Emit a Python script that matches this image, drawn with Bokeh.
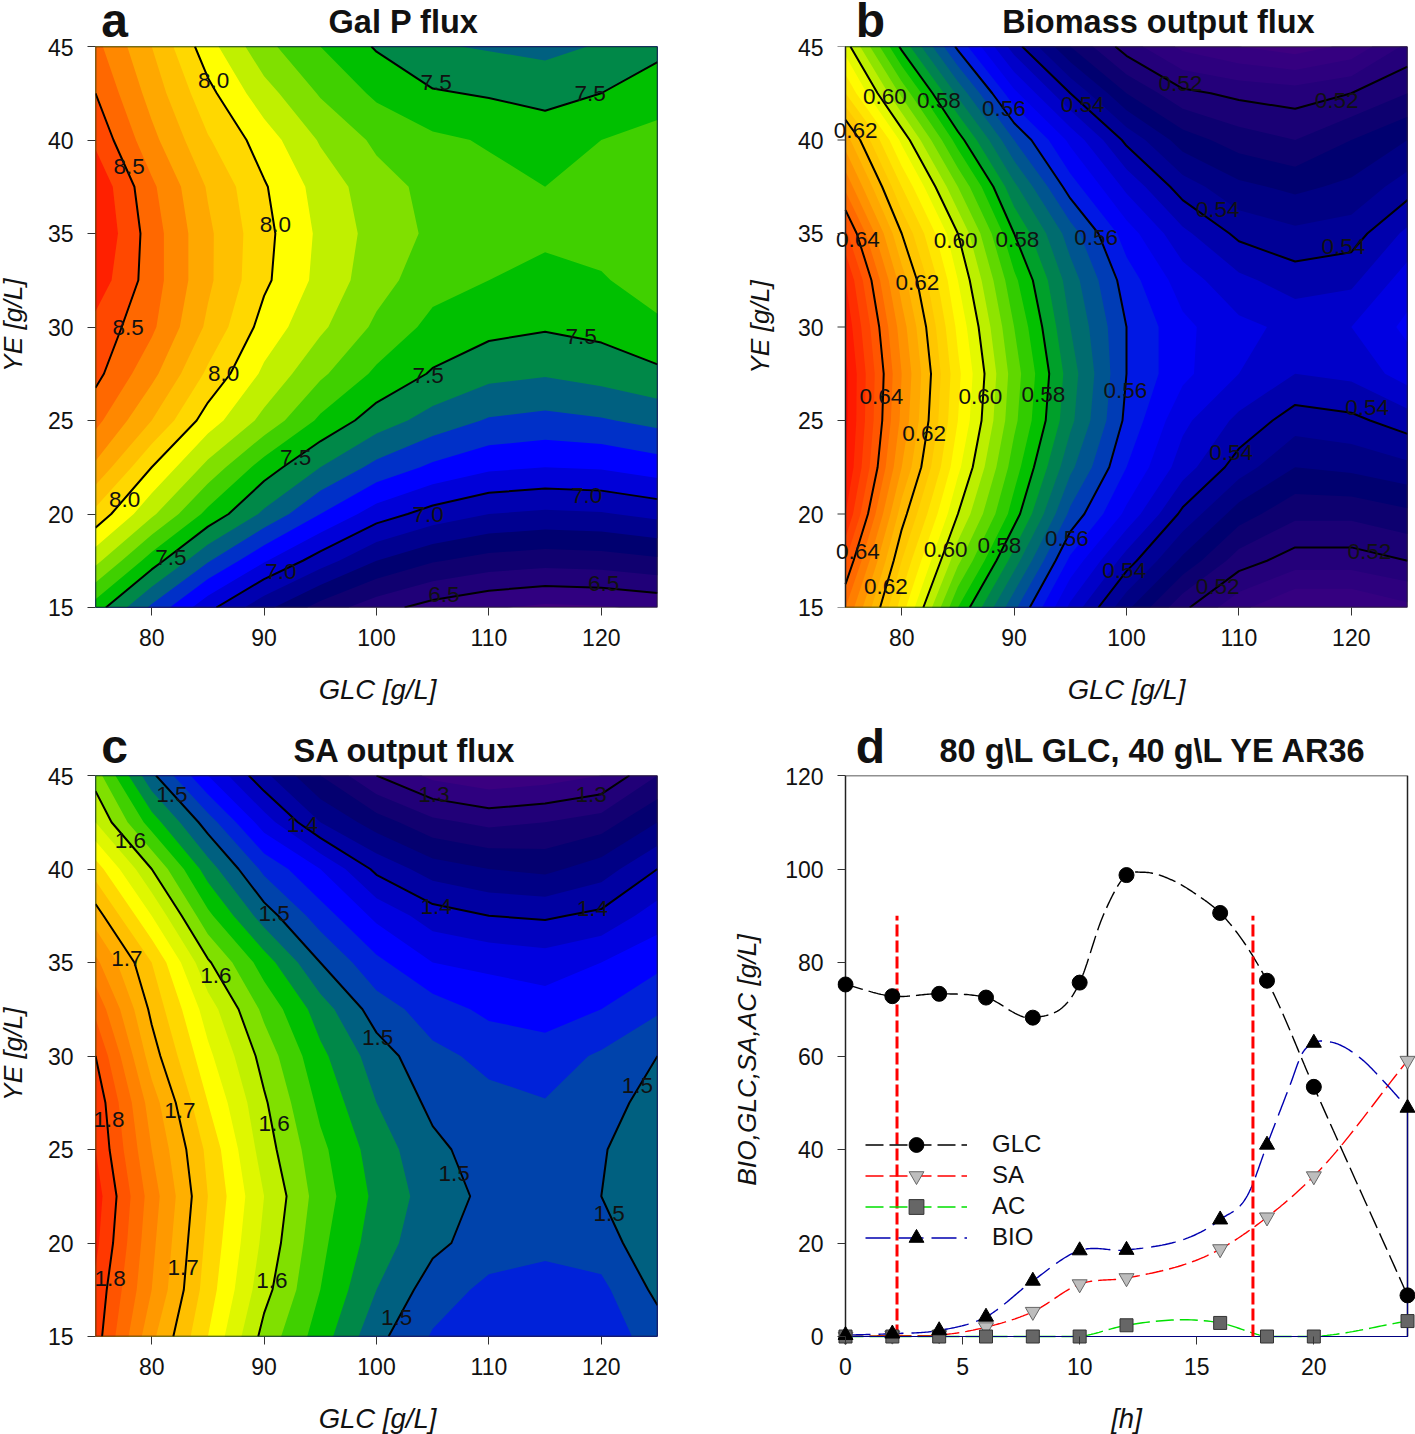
import numpy as np
from bokeh.embed import file_html
from bokeh.resources import INLINE
from bokeh.plotting import figure
from bokeh.layouts import column, row
from bokeh.models import Range1d, FixedTicker, Legend, LegendItem
from bokeh.core.properties import value

# ---------- data ----------
GLC_GRID = [75, 80, 85, 90, 95, 100, 105, 110, 115, 120, 125]
YE_GRID = [15, 17.5, 20, 22.5, 25, 27.5, 30, 32.5, 35, 37.5, 40, 42.5, 45]

GALP_150 = [7.55, 7.28, 7.03, 6.83, 6.66, 6.54, 6.46, 6.41, 6.38, 6.39, 6.42]
GALP_175 = [7.83, 7.55, 7.31, 7.11, 6.95, 6.80, 6.71, 6.66, 6.64, 6.65, 6.68]
GALP_200 = [8.07, 7.82, 7.57, 7.38, 7.20, 7.05, 6.96, 6.90, 6.88, 6.89, 6.93]
GALP_225 = [8.28, 8.00, 7.77, 7.55, 7.40, 7.27, 7.18, 7.12, 7.10, 7.11, 7.15]
GALP_250 = [8.43, 8.20, 7.95, 7.77, 7.58, 7.45, 7.36, 7.29, 7.27, 7.29, 7.33]
GALP_275 = [8.53, 8.33, 8.08, 7.88, 7.72, 7.58, 7.49, 7.43, 7.41, 7.44, 7.48]
GALP_300 = [8.57, 8.42, 8.18, 7.96, 7.82, 7.68, 7.57, 7.53, 7.51, 7.53, 7.58]
GALP_325 = [8.66, 8.45, 8.22, 8.02, 7.87, 7.74, 7.64, 7.60, 7.57, 7.59, 7.65]
GALP_350 = [8.70, 8.45, 8.22, 8.03, 7.88, 7.76, 7.68, 7.64, 7.62, 7.64, 7.68]
GALP_375 = [8.68, 8.42, 8.19, 8.01, 7.86, 7.74, 7.67, 7.63, 7.60, 7.63, 7.67]
GALP_400 = [8.58, 8.33, 8.11, 7.95, 7.79, 7.68, 7.62, 7.59, 7.55, 7.60, 7.63]
GALP_425 = [8.50, 8.26, 8.03, 7.84, 7.69, 7.58, 7.51, 7.49, 7.47, 7.50, 7.56]
GALP_450 = [8.43, 8.20, 7.94, 7.73, 7.60, 7.49, 7.41, 7.39, 7.37, 7.41, 7.47]

BIOM_150 = [.636, .610, .584, .565, .547, .533, .521, .513, .508, .508, .511]
BIOM_175 = [.644, .616, .593, .574, .555, .542, .531, .522, .518, .518, .520]
BIOM_200 = [.652, .622, .600, .582, .563, .551, .539, .530, .525, .525, .527]
BIOM_225 = [.656, .628, .605, .586, .569, .556, .546, .538, .532, .533, .535]
BIOM_250 = [.657, .631, .608, .589, .573, .559, .549, .543, .538, .539, .542]
BIOM_275 = [.657, .632, .609, .590, .574, .560, .553, .548, .544, .545, .550]
BIOM_300 = [.655, .630, .607, .588, .572, .560, .553, .549, .547, .548, .553]
BIOM_325 = [.652, .626, .604, .585, .570, .558, .550, .545, .542, .543, .550]
BIOM_350 = [.645, .620, .600, .580, .566, .554, .545, .539, .537, .538, .545]
BIOM_375 = [.635, .612, .592, .573, .558, .547, .538, .533, .531, .533, .538]
BIOM_400 = [.626, .603, .582, .564, .551, .539, .530, .526, .524, .528, .532]
BIOM_425 = [.612, .591, .571, .553, .540, .528, .521, .519, .518, .520, .524]
BIOM_450 = [.602, .579, .559, .542, .528, .518, .511, .508, .506, .509, .517]

SAFL_150 = [1.81, 1.725, 1.66, 1.593, 1.55, 1.506, 1.478, 1.467, 1.46, 1.468, 1.49]
SAFL_175 = [1.815, 1.74, 1.67, 1.607, 1.56, 1.52, 1.49, 1.475, 1.472, 1.475, 1.505]
SAFL_200 = [1.825, 1.745, 1.675, 1.615, 1.565, 1.53, 1.505, 1.49, 1.485, 1.49, 1.516]
SAFL_225 = [1.83, 1.75, 1.68, 1.62, 1.57, 1.535, 1.51, 1.495, 1.49, 1.50, 1.519]
SAFL_250 = [1.82, 1.74, 1.675, 1.61, 1.565, 1.53, 1.505, 1.49, 1.488, 1.498, 1.516]
SAFL_275 = [1.815, 1.73, 1.66, 1.603, 1.555, 1.52, 1.495, 1.485, 1.481, 1.49, 1.51]
SAFL_300 = [1.80, 1.71, 1.645, 1.592, 1.545, 1.51, 1.485, 1.475, 1.47, 1.483, 1.50]
SAFL_325 = [1.775, 1.695, 1.63, 1.575, 1.53, 1.49, 1.47, 1.455, 1.45, 1.46, 1.477]
SAFL_350 = [1.745, 1.68, 1.603, 1.55, 1.50, 1.465, 1.44, 1.435, 1.43, 1.44, 1.455]
SAFL_375 = [1.71, 1.64, 1.565, 1.51, 1.47, 1.435, 1.41, 1.40, 1.397, 1.405, 1.43]
SAFL_400 = [1.67, 1.60, 1.53, 1.475, 1.44, 1.395, 1.37, 1.36, 1.355, 1.37, 1.40]
SAFL_425 = [1.62, 1.55, 1.49, 1.43, 1.38, 1.35, 1.325, 1.315, 1.32, 1.33, 1.36]
SAFL_450 = [1.59, 1.505, 1.44, 1.385, 1.34, 1.30, 1.275, 1.265, 1.27, 1.28, 1.32]

GALP_LABELS = ["8.0", "7.5", "7.5", "8.5", "8.0", "8.5", "7.5", "8.0", "7.5", "7.5", "8.0", "7.0", "7.0", "7.5", "7.0", "6.5", "6.5"]
GALP_LX = [85.5, 105.3, 119.0, 78.0, 91.0, 77.9, 118.2, 86.4, 104.6, 92.8, 77.6, 104.6, 118.7, 81.7, 91.5, 106.0, 120.2]
GALP_LY = [43.2, 43.1, 42.5, 38.6, 35.5, 30.0, 29.5, 27.5, 27.4, 23.0, 20.8, 20.0, 21.0, 17.7, 16.9, 15.7, 16.3]

BIOM_LABELS = ["0.60", "0.58", "0.56", "0.54", "0.52", "0.52", "0.62", "0.54", "0.64", "0.60", "0.58", "0.56", "0.54", "0.62", "0.64",
               "0.60", "0.58", "0.56", "0.54", "0.62", "0.54", "0.52", "0.64", "0.60", "0.58", "0.56", "0.54", "0.62", "0.52"]
BIOM_LX = [78.5, 83.3, 89.1, 96.1, 104.8, 118.7, 75.9, 108.1, 76.1, 84.8, 90.3, 97.3, 119.3, 81.4, 78.2,
           87.0, 92.6, 99.9, 121.4, 82.0, 109.3, 121.6, 76.1, 83.9, 88.7, 94.7, 99.8, 78.6, 108.1]
BIOM_LY = [42.3, 42.1, 41.7, 41.9, 43.0, 42.1, 40.5, 36.3, 34.7, 34.6, 34.7, 34.8, 34.3, 32.4, 26.3,
           26.3, 26.4, 26.6, 25.7, 24.3, 23.3, 18.0, 18.0, 18.1, 18.3, 18.7, 17.0, 16.1, 16.1]

SAFL_LABELS = ["1.5", "1.4", "1.3", "1.3", "1.6", "1.5", "1.4", "1.4", "1.7", "1.6", "1.5", "1.5", "1.8", "1.7", "1.6", "1.5", "1.5", "1.8", "1.7", "1.6", "1.5"]
SAFL_LX = [81.8, 93.4, 105.1, 119.1, 78.1, 90.9, 105.3, 119.2, 77.8, 85.7, 100.1, 123.2, 76.2, 82.5, 90.9, 106.9, 120.7, 76.3, 82.8, 90.7, 101.8]
SAFL_LY = [44.0, 42.4, 44.0, 44.0, 41.5, 37.6, 38.0, 37.9, 35.2, 34.3, 31.0, 28.4, 26.6, 27.1, 26.4, 23.7, 21.6, 18.1, 18.7, 18.0, 16.0]

HOURS = [0, 2, 4, 6, 8, 10, 12, 16, 18, 20, 24]
GLC = [75.3, 72.8, 73.3, 72.5, 68.2, 75.7, 98.7, 90.6, 76.1, 53.4, 8.8]
SA = [0.0, 0.2, 0.3, 2.0, 5.3, 11.2, 12.5, 18.7, 25.5, 34.3, 59.0]
AC = [0.0, 0.0, 0.0, 0.0, 0.0, 0.0, 2.4, 2.9, 0.0, 0.0, 3.3]
BIO = [0.3, 0.6, 1.3, 4.2, 11.9, 18.4, 18.5, 25.0, 41.0, 62.8, 48.9]

# vertices of the drawn curves
GLC_CURVE_T = [0, 2, 4, 6, 8, 10, 11, 12, 12.7, 14, 15, 16, 18, 20, 24]
GLC_CURVE_V = [75.3, 72.8, 73.3, 72.5, 68.2, 75.7, 90.0, 98.7, 99.3, 97.5, 94.5, 90.6, 76.1, 53.4, 8.8]
BIO_CURVE_T = [0, 2, 4, 6, 8, 10, 12, 16, 17.2, 18, 19, 19.5, 20, 20.7, 22, 23, 24]
BIO_CURVE_V = [0.3, 0.6, 1.3, 4.2, 11.9, 18.4, 18.5, 25.0, 30.5, 41.0, 54.0, 60.5, 62.8, 63.0, 59.5, 54.5, 48.9]

PHASE_H = [2.2, 17.4]
PHASE_TOP = [90, 90]

HEAD_TITLES = ["Gal P flux", "Biomass output flux", "SA output flux", "80 g\\L GLC, 40 g\\L YE AR36"]
HEAD_LETTERS = ["a", "b", "c", "d"]

# ---------- colours ----------
RAMP = ["#400080", "#300080", "#200078", "#100070", "#000070", "#000090", "#0000B0", "#0000D8", "#0000FF",
        "#0030C8", "#006080", "#008848", "#00C000", "#40D000", "#80E000", "#C0F000", "#FFFF00", "#FFD800",
        "#FFC000", "#FFA800", "#FF8800", "#FF6800", "#FF4800", "#FF2000", "#FF0000"]
RGB = np.array([[int(c[i:i + 2], 16) for i in (1, 3, 5)] for c in RAMP], float)


def band_colors(levels, vals, pos):
    lv = np.asarray(levels)
    mids = (lv[:-1] + lv[1:]) / 2
    idx = np.interp(mids, vals, pos)
    out = []
    for k in idx:
        rgb = [np.interp(k, np.arange(len(RGB)), RGB[:, j]) for j in range(3)]
        out.append("#%02X%02X%02X" % tuple(int(round(v)) for v in rgb))
    return out


FONT = "Liberation Sans"
INK = "#111111"
FRAME = "#222222"
X_LAB_SIZE = "27.5px"
Y_LAB_SIZE = "26.3px"


def style(p, xt, yt, yl, y_tick_gap, y_lab_gap, x_bounds, y_bounds):
    xa, ya = p.xaxis[0], p.yaxis[0]
    for ax, ticks in ((xa, xt), (ya, yt)):
        ax.ticker = FixedTicker(ticks=ticks)
        ax.major_tick_in = 0
        ax.major_tick_out = 8
        ax.minor_tick_line_color = None
        ax.major_tick_line_color = "#333333"
        ax.axis_line_color = None
        ax.major_label_text_font = FONT
        ax.major_label_text_font_size = "23px"
        ax.major_label_text_color = INK
        ax.axis_label_text_font = FONT
        ax.axis_label_text_font_style = "italic"
        ax.axis_label_text_font_size = Y_LAB_SIZE
        ax.axis_label_text_color = INK
    if yl:
        ya.axis_label = yl
    xa.bounds, ya.bounds = x_bounds, y_bounds
    xa.major_label_standoff = 13
    ya.major_label_standoff = y_tick_gap
    ya.axis_label_standoff = y_lab_gap
    p.grid.visible = False
    p.outline_line_color = None
    p.background_fill_color = "white"
    p.border_fill_color = None


def strip(w, h):
    p = figure(width=w, height=h, output_backend="svg", toolbar_location=None,
               x_range=Range1d(0, w), y_range=Range1d(h, 0), x_axis_type=None, y_axis_type=None, min_border=0)
    p.outline_line_color = None
    p.grid.visible = False
    return p


def header(w, h, letter, title, title_x, title_y, letter_x, letter_y):
    p = strip(w, h)
    p.text([title_x], [title_y], text=[title], text_font=value(FONT), text_font_style="bold", text_font_size="32.5px",
           text_color=INK, text_align="center", text_baseline="middle")
    p.text([letter_x], [letter_y], text=[letter], text_font=value(FONT), text_font_style="bold", text_font_size="48px",
           text_color=INK, text_align="center", text_baseline="middle")
    return p


def side_label(w, h, text, x, y):
    p = strip(w, h)
    p.text([x], [y], text=[text], angle=np.pi / 2, text_font=value(FONT), text_font_style="italic", text_font_size=Y_LAB_SIZE,
           text_color=INK, text_align="center", text_baseline="middle")
    return p


def foot_label(w, h, text, x, y):
    p = strip(w, h)
    p.text([x], [y], text=[text], text_font=value(FONT), text_font_style="italic", text_font_size=X_LAB_SIZE,
           text_color=INK, text_align="center", text_baseline="middle")
    return p


def panel(z_rows, levels, colors, lines, lx, ly, labels, w, h, left, right, top, bottom, yl=None, y_tick_gap=14, y_lab_gap=19, pad_left=0):
    span = GLC_GRID[-1] - GLC_GRID[0]
    px = span / 562
    p = figure(width=w, height=h, output_backend="svg", toolbar_location=None,
               x_range=Range1d(GLC_GRID[0] - pad_left * px, GLC_GRID[-1]), y_range=Range1d(YE_GRID[0], YE_GRID[-1]),
               min_border_left=left, min_border_right=right, min_border_top=top, min_border_bottom=bottom,
               margin=(-6, 0, 0, 0))
    z = np.array(z_rows, float)
    ceiling = float(z.max()) + 1
    for lo, c in zip(levels[:-1], colors):
        p.contour(GLC_GRID, YE_GRID, z, levels=[lo, ceiling], fill_color=[c], line_color=None)
    p.contour(GLC_GRID, YE_GRID, z, levels=lines, fill_color=None, line_color="black", line_width=2)
    box_x = [GLC_GRID[0], GLC_GRID[0], GLC_GRID[-1], GLC_GRID[-1], GLC_GRID[0]]
    box_y = [YE_GRID[0], YE_GRID[-1], YE_GRID[-1], YE_GRID[0], YE_GRID[0]]
    p.line(box_x, box_y, line_color=FRAME, line_width=1.5)
    p.text(lx, ly, text=labels, text_font=value(FONT), text_font_size="22.5px", text_color=INK,
           text_align="center", text_baseline="middle")
    yt = [15, 20, 25, 30, 35, 40, 45]
    style(p, [80, 90, 100, 110, 120], yt, yl, y_tick_gap, y_lab_gap,
          (GLC_GRID[0], GLC_GRID[-1]), (YE_GRID[0], YE_GRID[-1]))
    if pad_left:
        # the frame is widened so that labels can cross the plot's left edge: ticks drawn in the widened part
        p.yaxis[0].major_tick_line_color = None
        p.yaxis[0].major_tick_out = 0
        p.segment([GLC_GRID[0] - 8 * px] * len(yt), yt, [GLC_GRID[0]] * len(yt), yt, line_color="#333333", line_width=1)
    return p


STRIP_W = 30
W1, W2 = 700 - STRIP_W, 715
lv_a = list(np.round(np.arange(6.3, 8.81, 0.1), 2))
col_a = band_colors(lv_a, [6.35 + .1 * i for i in range(25)], list(range(25)))
lv_b = list(np.round(np.arange(0.500, 0.6641, 0.004), 3))
col_b = band_colors(lv_b, [.505, .52, .53, .54, .548, .556, .56, .57, .58, .60, .62, .64, .66],
                    [0, 2, 4, 5.5, 7, 8, 9, 10.3, 11.7, 15.3, 18, 21.3, 24])
lv_c = list(np.round(np.arange(1.24, 1.8601, 0.02), 2))
col_c = band_colors(lv_c, [1.26, 1.30, 1.40, 1.45, 1.49, 1.51, 1.53, 1.55, 1.61, 1.65, 1.69, 1.80, 1.85],
                    [0, 1.5, 6, 8, 9.4, 10, 11, 12, 15, 16, 18, 22, 24])

pa = panel([GALP_150, GALP_175, GALP_200, GALP_225, GALP_250, GALP_275, GALP_300, GALP_325, GALP_350, GALP_375, GALP_400, GALP_425, GALP_450],
           lv_a, col_a, [6.5, 7.0, 7.5, 8.0, 8.5], GALP_LX, GALP_LY, GALP_LABELS, W1, 629, 95 - STRIP_W, 43, 8, 60)
pb = panel([BIOM_150, BIOM_175, BIOM_200, BIOM_225, BIOM_250, BIOM_275, BIOM_300, BIOM_325, BIOM_350, BIOM_375, BIOM_400, BIOM_425, BIOM_450],
           lv_b, col_b, [.52, .54, .56, .58, .60, .62, .64], BIOM_LX, BIOM_LY, BIOM_LABELS, W2, 629, 131, 8, 8, 60,
           yl="YE [g/L]", y_tick_gap=8, y_lab_gap=20, pad_left=14)
pc = panel([SAFL_150, SAFL_175, SAFL_200, SAFL_225, SAFL_250, SAFL_275, SAFL_300, SAFL_325, SAFL_350, SAFL_375, SAFL_400, SAFL_425, SAFL_450],
           lv_c, col_c, [1.3, 1.4, 1.5, 1.6, 1.7, 1.8], SAFL_LX, SAFL_LY, SAFL_LABELS, W1, 629, 95 - STRIP_W, 43, 8, 60)

# ---------- panel d ----------
T_END, Y_END = 24, 120
PAD = 8
x_per_px = T_END / 562
y_per_px = Y_END / 561
pd_ = figure(width=W2, height=637, output_backend="svg", toolbar_location=None,
             x_range=Range1d(-PAD * x_per_px, T_END + PAD * x_per_px), y_range=Range1d(-PAD * y_per_px, Y_END),
             min_border_left=137, min_border_right=0, min_border_top=8, min_border_bottom=60, margin=(-6, 0, -8, 0))


def smooth(t, y):
    """Smooth drawn line through the read vertices."""
    t = np.asarray(t, float)
    y = np.asarray(y, float)
    m = np.gradient(y, t)
    xs, ys = [], []
    for i in range(len(t) - 1):
        d = t[i + 1] - t[i]
        s = np.linspace(0, 1, 30)
        h00 = 2 * s**3 - 3 * s**2 + 1
        h10 = s**3 - 2 * s**2 + s
        h01 = -2 * s**3 + 3 * s**2
        h11 = s**3 - s**2
        xs.extend(t[i] + s * d)
        ys.extend(h00 * y[i] + h10 * d * m[i] + h01 * y[i + 1] + h11 * d * m[i + 1])
    return xs, list(np.clip(ys, 0, None))


series = [("GLC", GLC, GLC_CURVE_T, GLC_CURVE_V, "black", "18 6", "circle", "black", "black"),
          ("SA", SA, HOURS, SA, "#FF0000", "18 6", "inverted_triangle", "#BDBDBD", "#666666"),
          ("AC", AC, HOURS, AC, "#00E000", "18 6", "square", "#666666", "#333333"),
          ("BIO", BIO, BIO_CURVE_T, BIO_CURVE_V, "#0000B0", "25 8", "triangle", "black", "black")]
pending = []
for name, vals, ct, cv, col, dash, mk, fill, edge in series:
    cx, cy = smooth(ct, cv)
    l = pd_.line(cx, cy, line_color=col, line_width=1.4, line_dash=dash)
    pending.append((name, l, vals, mk, fill, edge))

pd_.line([0, 0, T_END, T_END], [0, Y_END, Y_END, 0], line_color=FRAME, line_width=1.5)
pd_.line([HOURS[0], HOURS[-1], HOURS[-1]], [0, 0, BIO[-1]], line_color="#000080", line_width=1.2)

for h, top in zip(PHASE_H, PHASE_TOP):
    pd_.line([h, h], [0, top], line_color="#FF0000", line_width=3, line_dash="12 4")

LEGEND_BOTTOMS = [181.5, 150.5, 119.5, 88.5]
for (name, l, vals, mk, fill, edge), bottom in zip(pending, LEGEND_BOTTOMS):
    s = pd_.scatter(HOURS, vals, marker=mk, size=15 if mk != "square" else 13, fill_color=fill, line_color=edge, line_width=1)
    leg = Legend(items=[LegendItem(label=name, renderers=[l, s])], location=(28, bottom), glyph_width=102, glyph_height=37,
                 spacing=0, padding=0, margin=0, label_standoff=25, background_fill_alpha=0, border_line_color=None,
                 label_text_font=FONT, label_text_font_size="24px", label_text_color=INK, label_height=31)
    pd_.add_layout(leg, "center")

style(pd_, [0, 5, 10, 15, 20], [0, 20, 40, 60, 80, 100, 120], "BIO,GLC,SA,AC [g/L]", 14, 20, (0, T_END), (0, Y_END))
# frame widened by PAD so that the markers on the edges stay whole: ticks run inward from the widened edge
pd_.xaxis[0].major_tick_in = PAD
pd_.xaxis[0].major_tick_out = 0
pd_.yaxis[0].major_tick_in = PAD
pd_.yaxis[0].major_tick_out = 0

# ---------- header, side and foot texts ----------
ha = header(W1 + STRIP_W, 44, HEAD_LETTERS[0], HEAD_TITLES[0], 403, 21, 114, 20)
hb = header(W2, 44, HEAD_LETTERS[1], HEAD_TITLES[1], 458, 21, 170, 20)
hc = header(W1 + STRIP_W, 68, HEAD_LETTERS[2], HEAD_TITLES[2], 404, 45, 114, 41)
hd = header(W2, 68, HEAD_LETTERS[3], HEAD_TITLES[3], 453, 45, 170, 41)
sa = side_label(STRIP_W, 623, "YE [g/L]", 12, 306)
sc = side_label(STRIP_W, 623, "YE [g/L]", 12, 306)
fa = foot_label(W1 + STRIP_W, 38, "GLC [g/L]", 377, 22)
fb = foot_label(W2, 38, "GLC [g/L]", 426, 22)
fc = foot_label(W1 + STRIP_W, 38, "GLC [g/L]", 377, 22)
fd = foot_label(W2, 38, "[h]", 426, 22)

page = column(row(ha, hb), row(sa, pa, pb), row(fa, fb), row(hc, hd), row(sc, pc, pd_), row(fc, fd))
open("out.html", "w").write(file_html(page, INLINE))
